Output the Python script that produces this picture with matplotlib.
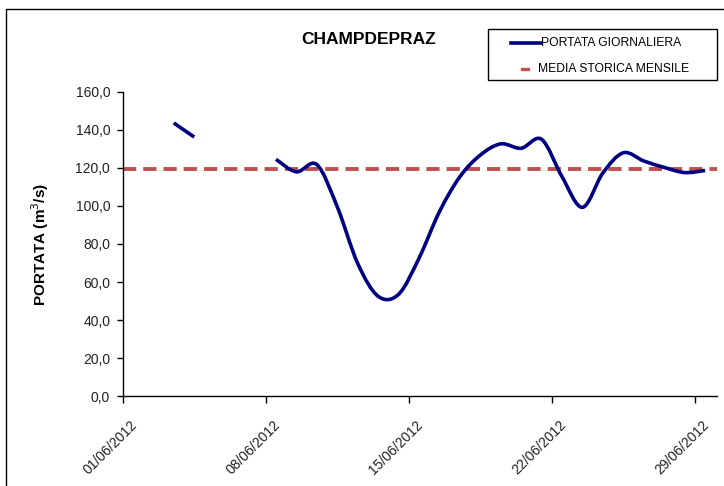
import numpy as np
import pandas as pd
import matplotlib
matplotlib.use("Agg")
import matplotlib.pyplot as plt
import matplotlib.dates as mdates
from matplotlib.path import Path
from matplotlib.patches import PathPatch, Rectangle
from matplotlib.lines import Line2D
from matplotlib.ticker import FuncFormatter
import matplotlib.transforms as mtransforms

# ---------------- data ----------------
title = "CHAMPDEPRAZ"
series_label = "PORTATA GIORNALIERA"
mean_label = "MEDIA STORICA MENSILE"
y_label = "PORTATA (m$^3$/s)"
days = pd.date_range("2012-06-01", periods=29, freq="D") + pd.Timedelta(hours=12)
portata = [np.nan, np.nan, 143.7, 136.3, np.nan, np.nan, np.nan,
           124.6, 118.0, 121.8, 99.6, 69.8, 52.5, 53.5, 72.5, 97.0,
           115.4, 126.8, 132.7, 130.4, 135.1, 115.4, 99.3, 117.4,
           128.0, 123.7, 120.3, 117.6, 118.7]
media_storica = 119.5
x_tick_dates = pd.date_range("2012-06-01", "2012-06-29", freq="7D")
y_ticks = [0, 20, 40, 60, 80, 100, 120, 140, 160]

# ---------------- figure ----------------
plt.rcParams['font.family'] = ['Liberation Sans', 'DejaVu Sans']
W, H = 724, 486
fig = plt.figure(figsize=(W / 100, H / 100), dpi=100)
fig.patch.set_facecolor("white")


def fx(px):
    return px / W


def fy(py):
    return 1 - py / H


# outer chart frame (only left and top edges visible)
fig.patches.append(Rectangle((fx(6), -0.1), 1.2, fy(9) + 0.1,
                             transform=fig.transFigure, fill=False,
                             edgecolor="black", linewidth=1.0))

ax = fig.add_axes([fx(122.7), fy(396), (716.7 - 122.7) / W, (396 - 92) / H])

x = mdates.date2num(days.to_pydatetime())
y = np.array(portata, dtype=float)

navy = "#000080"
red = "#C0504D"

# smoothed line (Excel-like Bezier smoothing) per contiguous segment
valid = ~np.isnan(y)
segs = []
cur = []
for i in range(len(y)):
    if valid[i]:
        cur.append(i)
    else:
        if cur:
            segs.append(cur)
        cur = []
if cur:
    segs.append(cur)

for seg in segs:
    P = np.column_stack([x[seg], y[seg]])
    n = len(P)
    verts = [P[0]]
    codes = [Path.MOVETO]
    for i in range(n - 1):
        p0 = P[i - 1] if i > 0 else P[i]
        p1 = P[i]
        p2 = P[i + 1]
        p3 = P[i + 2] if i + 2 < n else P[i + 1]
        c1 = p1 + (p2 - p0) / 6.0
        c2 = p2 - (p3 - p1) / 6.0
        verts += [c1, c2, p2]
        codes += [Path.CURVE4] * 3
    ax.add_patch(PathPatch(Path(verts, codes), fill=False, edgecolor=navy,
                           linewidth=2.6, transform=ax.transData,
                           capstyle="butt", joinstyle="round", zorder=3))

ax.axhline(media_storica, color=red, linewidth=2.8,
           linestyle=(0, (3.4, 1.8)), zorder=2)

ax.set_xlim(mdates.date2num(pd.Timestamp("2012-06-01")),
            mdates.date2num(pd.Timestamp("2012-06-30 01:40")))
ax.set_ylim(0, 160)

tick_nums = mdates.date2num(x_tick_dates.to_pydatetime())
ax.set_xticks(tick_nums)
ax.set_xticklabels([])
lab_trans = (mtransforms.blended_transform_factory(ax.transData, ax.transAxes)
             + mtransforms.ScaledTranslation(7 / 100, -22 / 100, fig.dpi_scale_trans))
for tn, d in zip(tick_nums, x_tick_dates):
    ax.text(tn, 0, d.strftime("%d/%m/%Y"), transform=lab_trans, rotation=45,
            rotation_mode="anchor", ha="right", va="top", fontsize=10,
            color="#222222", clip_on=False)

ax.set_yticks(y_ticks)
ax.yaxis.set_major_formatter(FuncFormatter(lambda v, p: f"{v:.1f}".replace(".", ",")))
ax.tick_params(axis="y", labelsize=10, labelcolor="#222222", length=4,
               width=1, direction="out", pad=5)
ax.tick_params(axis="x", length=5, width=1, direction="out")

for s in ["top", "right"]:
    ax.spines[s].set_visible(False)
for s in ["left", "bottom"]:
    ax.spines[s].set_color("black")
    ax.spines[s].set_linewidth(1.0)

ax.set_ylabel(y_label, fontsize=11, fontweight="bold")
ax.yaxis.set_label_coords(-0.12, 0.5)

fig.text(fx(369), fy(40), title, fontsize=12.5, fontweight="bold",
         ha="center", va="center")

# legend box (drawn as in the original: fixed box with handles)
fig.patches.append(Rectangle((fx(488), fy(80)), fx(717) - fx(488), fy(29) - fy(80),
                             transform=fig.transFigure, fill=True,
                             facecolor="white", edgecolor="black",
                             linewidth=1.0, zorder=5))
fig.lines.append(Line2D([fx(511), fx(541)], [fy(43), fy(43)],
                        transform=fig.transFigure, color=navy,
                        linewidth=2.6, zorder=6))
fig.lines.append(Line2D([fx(521.5), fx(527.5)], [fy(69), fy(69)],
                        transform=fig.transFigure, color=red,
                        linewidth=2.4, zorder=6))
fig.text(fx(541), fy(43), series_label, fontsize=8.7, ha="left",
         va="center", zorder=6)
fig.text(fx(538), fy(69), mean_label, fontsize=8.7, ha="left",
         va="center", zorder=6)

fig.savefig("out.png", dpi=100, facecolor="white")
